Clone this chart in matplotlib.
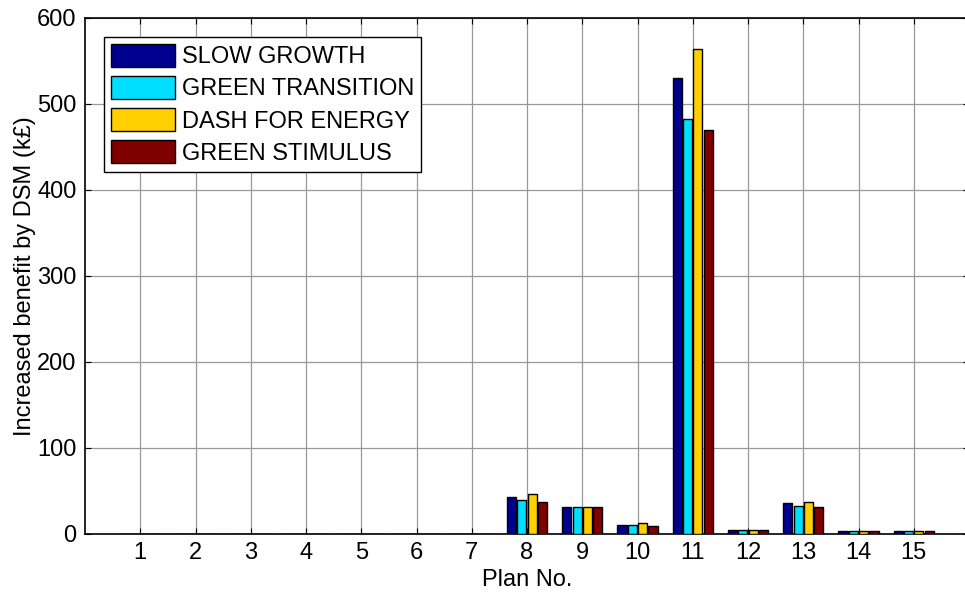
import numpy as np
import matplotlib.pyplot as plt

plt.rcParams['font.family'] = ['Liberation Sans', 'DejaVu Sans']

plans = np.arange(1, 16)
scenarios = ["SLOW GROWTH", "GREEN TRANSITION", "DASH FOR ENERGY", "GREEN STIMULUS"]
colors = ["#00008F", "#00DFFF", "#FFCF00", "#800000"]

slow_growth = [0, 0, 0, 0, 0, 0, 0, 43.5, 31, 11, 530, 5, 36, 4, 4]
green_transition = [0, 0, 0, 0, 0, 0, 0, 39.5, 31, 11, 482, 5, 32.5, 4, 4]
dash_for_energy = [0, 0, 0, 0, 0, 0, 0, 47, 31, 12.5, 564, 5, 37.5, 4, 4]
green_stimulus = [0, 0, 0, 0, 0, 0, 0, 37.5, 31, 9.5, 470, 5, 31, 4, 4]
series = [slow_growth, green_transition, dash_for_energy, green_stimulus]

fig = plt.figure(figsize=(9.65, 5.99), dpi=100)
# right edge of the axes sits just past the figure border
ax = fig.add_axes([85 / 965, 1 - 534 / 599, 884 / 965, 516 / 599])

offsets = [-0.28, -0.093, 0.093, 0.28]
for vals, off, col, name in zip(series, offsets, colors, scenarios):
    ax.bar(plans + off, vals, width=0.165, color=col, edgecolor='black',
           linewidth=1.0, label=name, zorder=3)

ax.set_xlim(0, 16)
ax.set_ylim(0, 600)
ax.set_xticks(plans)
ax.set_yticks(np.arange(0, 601, 100))
ax.grid(True, color='0.6', linewidth=0.9, linestyle='-', zorder=0)
ax.set_axisbelow(True)
ax.tick_params(direction='in', length=4, width=0.8, top=True, right=True,
               labelsize=17, pad=6)
for s in ax.spines.values():
    s.set_linewidth(1.2)

ax.set_xlabel("Plan No.", fontsize=17, labelpad=3)
ax.set_ylabel("Increased benefit by DSM (k£)", fontsize=17, labelpad=1)

leg = ax.legend(loc='upper left', fontsize=17, frameon=True, fancybox=False,
                edgecolor='black', framealpha=1, handlelength=2.7,
                handleheight=1.1, handletextpad=0.3, labelspacing=0.33,
                borderpad=0.3, borderaxespad=0.8)
leg.get_frame().set_linewidth(1.0)

fig.savefig("out.png", dpi=100)
